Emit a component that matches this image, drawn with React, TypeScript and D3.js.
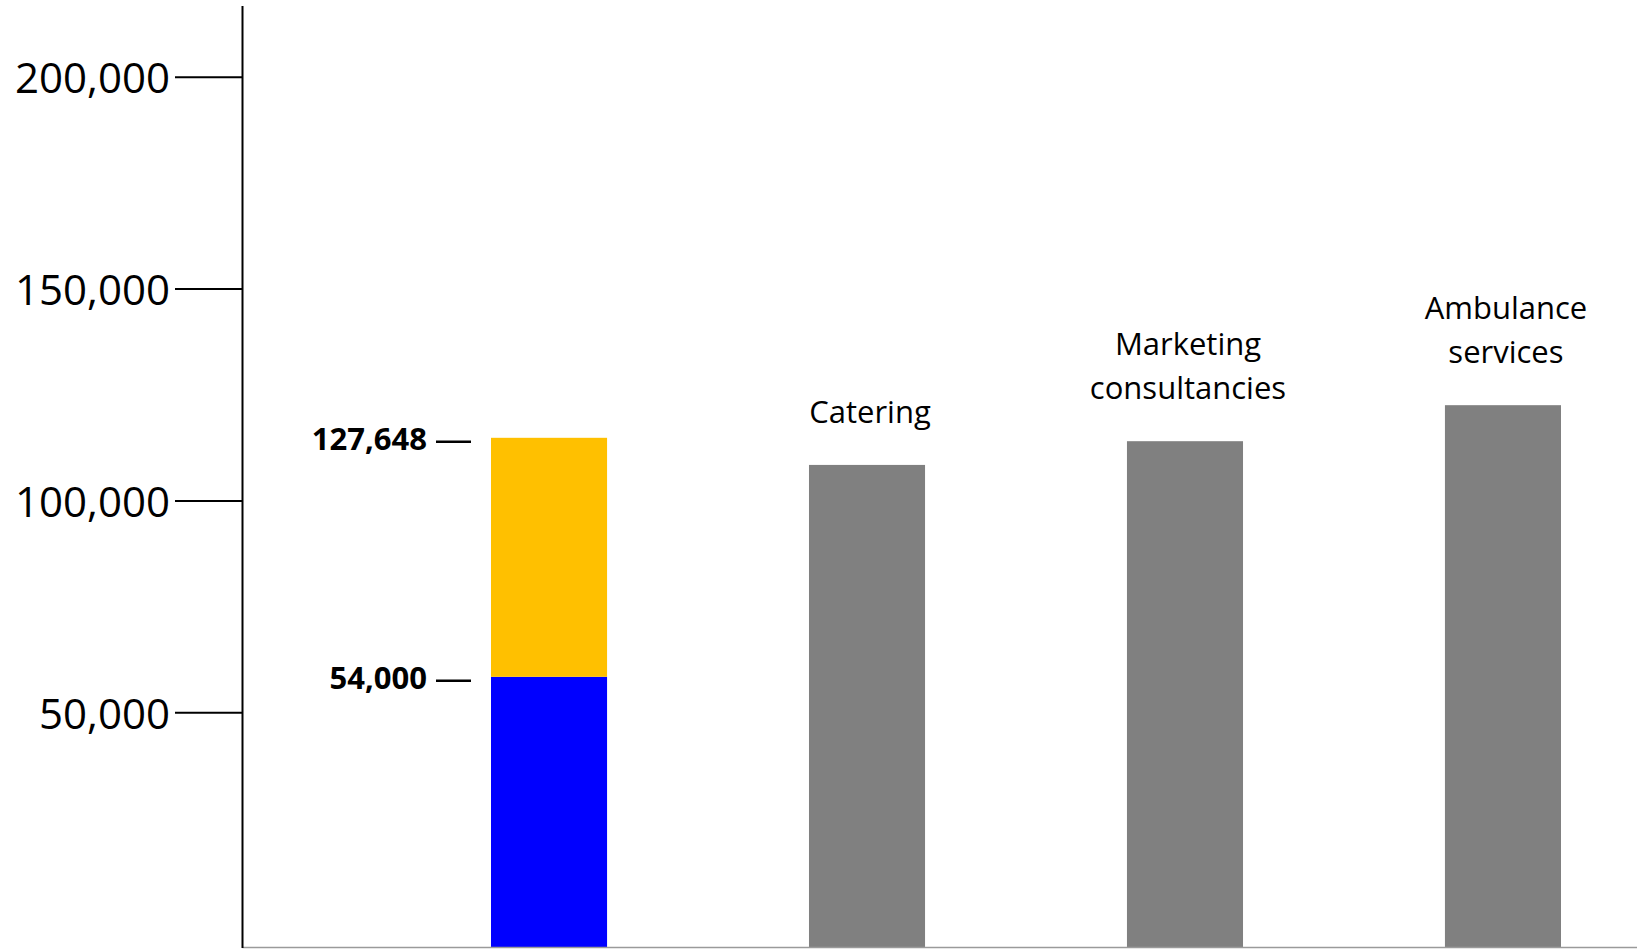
import React from "react";
import * as d3 from "d3";

// ---- data ----
const categories = ["Total cost", "Catering", "Marketing consultancies", "Ambulance services"];
const categoryLabelLines: string[][] = [[], ["Catering"], ["Marketing", "consultancies"], ["Ambulance", "services"]];
const baseSeries = [58500, 0, 0, 0]; // blue segment
const extraSeries = [56400, 0, 0, 0]; // yellow segment
const comparisonSeries = [0, 108500, 114100, 122600]; // grey bars
const annotationLabels = ["54,000", "127,648"]; // labels at top of blue / yellow segments
const yTickValues = [50000, 100000, 150000, 200000];
const yDomain = [-5500, 216800];

const seriesKeys = ["base", "extra", "comparison"];
const seriesColors: Record<string, string> = { base: "#0000FF", extra: "#FFC000", comparison: "#808080" };

const W = 1637;
const H = 949;
const FONT = "'Open Sans', 'Noto Sans', sans-serif";

export default function App() {
  const rows = categories.map((c, i) => ({
    category: c,
    base: baseSeries[i],
    extra: extraSeries[i],
    comparison: comparisonSeries[i],
  }));
  const stacked = d3.stack<any>().keys(seriesKeys)(rows);

  const y = d3.scaleLinear().domain(yDomain).range([948, 6]);
  const x = d3
    .scaleBand<string>()
    .domain(categories)
    .range([491, 1561])
    .paddingInner(0.635)
    .paddingOuter(0);

  const axisX = 242.5;
  const floorY = y(yDomain[0]);
  const fmt = d3.format(",");

  // annotations on first bar: tops of blue and yellow segments
  const firstCat = categories[0];
  const annotationValues = [stacked[0][0][1], stacked[1][0][1]];

  return (
    <svg
      width={W}
      height={H}
      style={{ position: "absolute", left: 0, top: 0, display: "block", background: "#fff" }}
    >
      {/* bars */}
      {stacked.map((layer) => (
        <g key={layer.key} fill={seriesColors[layer.key]}>
          {layer.map((d, i) => {
            if (d[1] - d[0] <= 0) return null;
            const cat = categories[i];
            const y0 = d[0] === 0 ? floorY : y(d[0]);
            const y1 = y(d[1]);
            return <rect key={cat} x={x(cat)} y={y1} width={x.bandwidth()} height={y0 - y1} />;
          })}
        </g>
      ))}

      {/* x baseline */}
      <line x1={axisX} x2={W} y1={947.5} y2={947.5} stroke="#9a9a9a" strokeWidth={1.5} />

      {/* y axis */}
      <line x1={axisX} x2={axisX} y1={y(yDomain[1])} y2={floorY} stroke="#000" strokeWidth={2} />
      {yTickValues.map((t) => (
        <g key={t}>
          <line x1={175} x2={axisX} y1={y(t)} y2={y(t)} stroke="#000" strokeWidth={2} />
          <text x={170} y={y(t) + 16} textAnchor="end" fontFamily={FONT} fontSize={42} fill="#000">
            {fmt(t)}
          </text>
        </g>
      ))}

      {/* category labels above grey bars */}
      {categories.map((c, i) => {
        const lines = categoryLabelLines[i];
        if (!lines.length) return null;
        const top = y(rows[i].base + rows[i].extra + rows[i].comparison);
        const cx = (x(c) as number) + x.bandwidth() / 2 + 3;
        const lineH = 44;
        return (
          <text key={c} textAnchor="middle" fontFamily={FONT} fontSize={31} fill="#000">
            {lines.map((l, j) => (
              <tspan key={j} x={cx} y={top - 42 - (lines.length - 1 - j) * lineH}>
                {l}
              </tspan>
            ))}
          </text>
        );
      })}

      {/* value annotations for first bar */}
      {annotationValues.map((v, i) => {
        const yy = y(v);
        return (
          <g key={i}>
            <text x={427} y={yy + 12} textAnchor="end" fontFamily={FONT} fontWeight={700} fontSize={31} fill="#000">
              {annotationLabels[i]}
            </text>
            <line x1={436} x2={471} y1={yy + 4} y2={yy + 4} stroke="#000" strokeWidth={2.5} />
          </g>
        );
      })}
      <desc>{firstCat}</desc>
    </svg>
  );
}
